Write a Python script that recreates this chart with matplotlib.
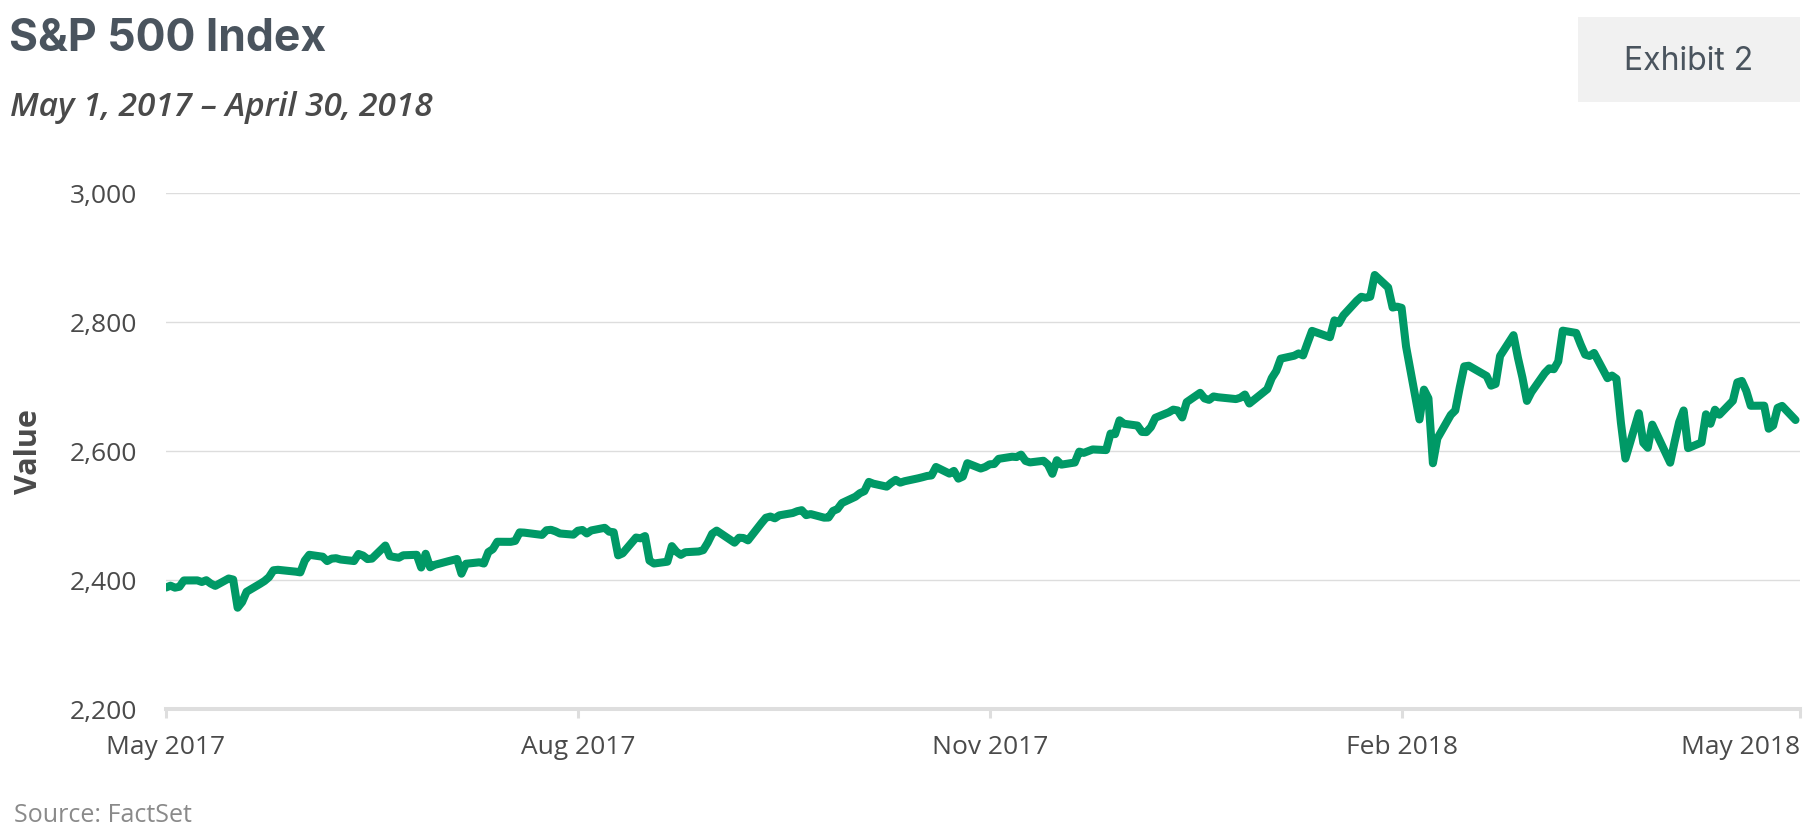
import pandas as pd
import numpy as np
import matplotlib
matplotlib.use("Agg")
import matplotlib.pyplot as plt
from matplotlib.patches import Rectangle

# S&P 500 daily closes, May 1 2017 - Apr 30 2018
closes = [
    # May 2017
    2388.33, 2391.17, 2388.13, 2389.52, 2399.29, 2399.38, 2396.92, 2399.63, 2394.44, 2390.90,
    2402.32, 2400.67, 2357.03, 2365.72, 2381.73, 2394.02, 2398.42, 2404.39, 2415.07, 2415.82,
    2412.91, 2411.80,
    # Jun
    2430.06, 2439.07, 2436.10, 2429.33, 2433.14, 2433.79, 2431.77, 2429.39, 2440.35, 2437.92,
    2432.46, 2433.15, 2453.46, 2437.03, 2435.61, 2434.50, 2438.30, 2439.07, 2419.38, 2440.69,
    2419.70, 2423.41,
    # Jul
    2429.01, 2432.54, 2409.75, 2425.18, 2427.43, 2425.53, 2443.25, 2447.83, 2459.27, 2459.14,
    2460.61, 2473.83, 2473.45, 2472.54, 2469.91, 2477.13, 2477.83, 2475.42, 2472.10, 2470.30,
    # Aug
    2476.35, 2477.57, 2472.16, 2476.83, 2480.91, 2474.92, 2474.02, 2438.21, 2441.32, 2465.84,
    2464.61, 2468.11, 2430.01, 2425.55, 2428.37, 2452.51, 2444.04, 2438.97, 2443.05, 2444.24,
    2446.30, 2457.59, 2471.65,
    # Sep
    2476.55, 2457.85, 2465.54, 2465.10, 2461.43, 2488.11, 2496.48, 2498.37, 2495.62, 2500.23,
    2503.87, 2506.65, 2508.24, 2500.60, 2502.22, 2496.66, 2496.84, 2507.04, 2510.06, 2519.36,
    # Oct
    2529.12, 2534.58, 2537.74, 2552.07, 2549.33, 2544.73, 2550.64, 2555.24, 2550.93, 2553.17,
    2557.64, 2559.36, 2561.26, 2562.10, 2575.21, 2564.98, 2569.13, 2557.15, 2560.40, 2581.07,
    2572.83, 2575.26,
    # Nov
    2579.36, 2579.85, 2587.84, 2591.13, 2590.64, 2594.38, 2584.62, 2582.30, 2584.84, 2578.87,
    2564.62, 2585.64, 2578.85, 2582.14, 2599.03, 2597.08, 2602.42, 2601.42, 2627.04, 2626.07,
    2647.58,
    # Dec
    2642.22, 2639.44, 2629.57, 2629.27, 2636.98, 2651.50, 2659.99, 2664.11, 2662.85, 2652.01,
    2675.81, 2690.16, 2681.47, 2679.25, 2684.57, 2683.34, 2680.50, 2682.62, 2687.54, 2673.61,
    # Jan 2018
    2695.81, 2713.06, 2723.99, 2743.15, 2747.71, 2751.29, 2748.23, 2767.56, 2786.24, 2776.42,
    2802.56, 2798.03, 2810.30, 2832.97, 2839.13, 2837.54, 2839.25, 2872.87, 2853.53, 2822.43,
    2823.81,
    # Feb
    2821.98, 2762.13, 2648.94, 2695.14, 2681.66, 2581.00, 2619.55, 2656.00, 2662.94, 2698.63,
    2731.20, 2732.22, 2716.26, 2701.33, 2703.96, 2747.30, 2779.60, 2744.28, 2713.83,
    # Mar
    2677.67, 2691.25, 2720.94, 2728.12, 2726.80, 2738.97, 2786.57, 2783.02, 2765.31, 2749.48,
    2747.33, 2752.01, 2712.92, 2716.94, 2711.93, 2643.69, 2588.26, 2658.55, 2612.62, 2605.00,
    2640.87,
    # Apr
    2581.88, 2614.45, 2644.69, 2662.84, 2604.47, 2613.16, 2656.87, 2642.19, 2663.99, 2656.30,
    2677.84, 2706.39, 2708.64, 2693.13, 2670.14, 2670.29, 2634.56, 2639.40, 2666.94, 2669.91,
    2648.05,
]

market_holidays = ["2017-05-29", "2017-07-04", "2017-09-04", "2017-11-23", "2017-12-25",
                   "2018-01-01", "2018-01-15", "2018-02-19", "2018-03-30"]
dates = pd.bdate_range("2017-05-01", "2018-04-30")
dates = dates[~dates.isin(pd.to_datetime(market_holidays))]

y_ticks = [2200, 2400, 2600, 2800, 3000]
x_ticks = pd.to_datetime(["2017-05-01", "2017-08-01", "2017-11-01", "2018-02-01", "2018-05-01"])
x_labels = ["May 2017", "Aug 2017", "Nov 2017", "Feb 2018", "May 2018"]

GREEN = "#009966"
TEXT = "#4a4a4a"
SLATE = "#4a545e"
AXIS = "#dedede"

fig = plt.figure(figsize=(18.16, 8.38), dpi=100)
ax = fig.add_axes([166 / 1816, 1 - 709 / 838, (1800 - 166) / 1816, (709 - 193) / 838])

ax.plot(dates, closes, color=GREEN, lw=5.8, solid_joinstyle="round", solid_capstyle="round",
        zorder=3)

ax.set_ylim(2200, 3000)
ax.set_xlim(pd.Timestamp("2017-05-01"), pd.Timestamp("2018-05-01"))
ax.set_yticks(y_ticks)
ax.set_yticklabels([f"{v:,}" for v in y_ticks], fontsize=19, color=TEXT,
                   family="Open Sans")
ax.set_xticks(x_ticks)
ax.set_xticklabels(x_labels, fontsize=19, color=TEXT, family="Open Sans")
ax.get_xticklabels()[-1].set_ha("right")

ax.tick_params(axis="y", length=0, pad=21)
ax.tick_params(axis="x", length=6.5, width=2.2, color=AXIS, pad=12)
ax.grid(axis="y", color="#dddddd", lw=1.0)
ax.set_axisbelow(True)
for s in ["top", "right", "left"]:
    ax.spines[s].set_visible(False)
ax.spines["bottom"].set_color(AXIS)
ax.spines["bottom"].set_linewidth(2.9)

fig.text(29 / 1816, 1 - 452 / 838, "Value", rotation=90, ha="center", va="center",
         fontsize=22, fontweight="bold", color=TEXT, family="Open Sans")

fig.text(9 / 1816, 1 - 39 / 838, "S&P 500 Index", fontsize=32, fontweight="bold",
         color=SLATE, family="Inter", va="center")
fig.text(10 / 1816, 1 - 108 / 838, "May 1, 2017 – April 30, 2018", fontsize=24,
         style="italic", fontweight="semibold", color=TEXT, family="Open Sans", va="center")

fig.patches.append(Rectangle((1578 / 1816, 1 - 102 / 838), 222 / 1816, 85 / 838,
                             transform=fig.transFigure, facecolor="#f1f1f1",
                             edgecolor="none"))
fig.text(1689 / 1816, 1 - 62 / 838, "Exhibit 2", fontsize=23, color=SLATE,
         family="Inter", ha="center", va="center")

fig.text(14 / 1816, 1 - 815 / 838, "Source: FactSet", fontsize=18, color="#8a8a8a",
         family="Open Sans", va="center")

fig.savefig("out.png", dpi=100)
